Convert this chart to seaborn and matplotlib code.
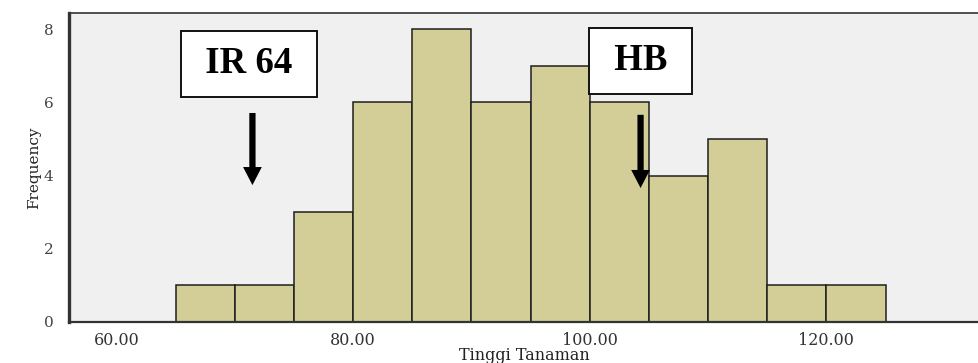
import numpy as np
import pandas as pd
import matplotlib
matplotlib.use('Agg')
import matplotlib.pyplot as plt
import seaborn as sns

# Data: histogram of plant height (Tinggi Tanaman)
bin_edges = [65, 70, 75, 80, 85, 90, 95, 100, 105, 110, 115, 120, 125]
counts = [1, 1, 3, 6, 8, 6, 7, 6, 4, 5, 1, 1]
x_ticks = [60, 80, 100, 120]
y_ticks = [0, 2, 4, 6, 8]

sns.set_style("white")
plt.rcParams['font.family'] = ['DejaVu Serif']

df = pd.DataFrame({
    'center': [(a + b) / 2 for a, b in zip(bin_edges[:-1], bin_edges[1:])],
    'count': counts,
})

fig = plt.figure(figsize=(9.79, 3.63), dpi=100)
ax = fig.add_axes([0.0705, 0.113, 0.9295, 0.851])
ax.set_facecolor('#f0f0f0')

sns.histplot(data=df, x='center', weights='count', bins=bin_edges, ax=ax,
             color='#d3ce97', alpha=1, edgecolor='#1e1e1e', linewidth=1.1)

ax.set_xlim(56.0, 132.9)
ax.set_ylim(0, 8.44)
ax.set_xticks(x_ticks)
ax.set_xticklabels([f'{v:.2f}' for v in x_ticks], fontsize=11.5, color='#333333')
ax.set_yticks(y_ticks)
ax.set_yticklabels([str(v) for v in y_ticks], fontsize=11, color='#444444')
ax.tick_params(axis='y', length=9, width=1.0, color='#333333', direction='out', pad=2)
ax.tick_params(axis='x', length=5, width=1.6, color='#333333', direction='out', pad=2)
ax.set_xlabel('Tinggi Tanaman', fontsize=11.5, labelpad=-1, color='#222222')
ax.set_ylabel('Frequency', fontsize=11, labelpad=2, color='#222222')

ax.spines['left'].set_linewidth(2.4)
ax.spines['bottom'].set_linewidth(1.6)
ax.spines['top'].set_linewidth(1.2)
for side in ['left', 'bottom', 'top']:
    ax.spines[side].set_color('#333333')
ax.spines['right'].set_visible(False)

# Labels with arrows
box = dict(boxstyle='square,pad=0.42', facecolor='white', edgecolor='#111111', linewidth=1.4)
ax.text(71.2, 7.06, ' IR 64 ', ha='center', va='center', fontsize=26.5,
        fontweight='bold', family='Liberation Serif', color='black', bbox=box, zorder=5)
ax.text(104.3, 7.14, ' HB ', ha='center', va='center', fontsize=26.5,
        fontweight='bold', family='Liberation Serif', color='black', bbox=box, zorder=5)

arrow = dict(width=4.5, headwidth=13.5, headlength=13, facecolor='black',
             edgecolor='none', shrink=0)
ax.annotate('', xy=(71.5, 3.74), xytext=(71.5, 5.71), arrowprops=arrow, zorder=5)
ax.annotate('', xy=(104.3, 3.66), xytext=(104.3, 5.66), arrowprops=arrow, zorder=5)

plt.savefig('out.png', dpi=100)
